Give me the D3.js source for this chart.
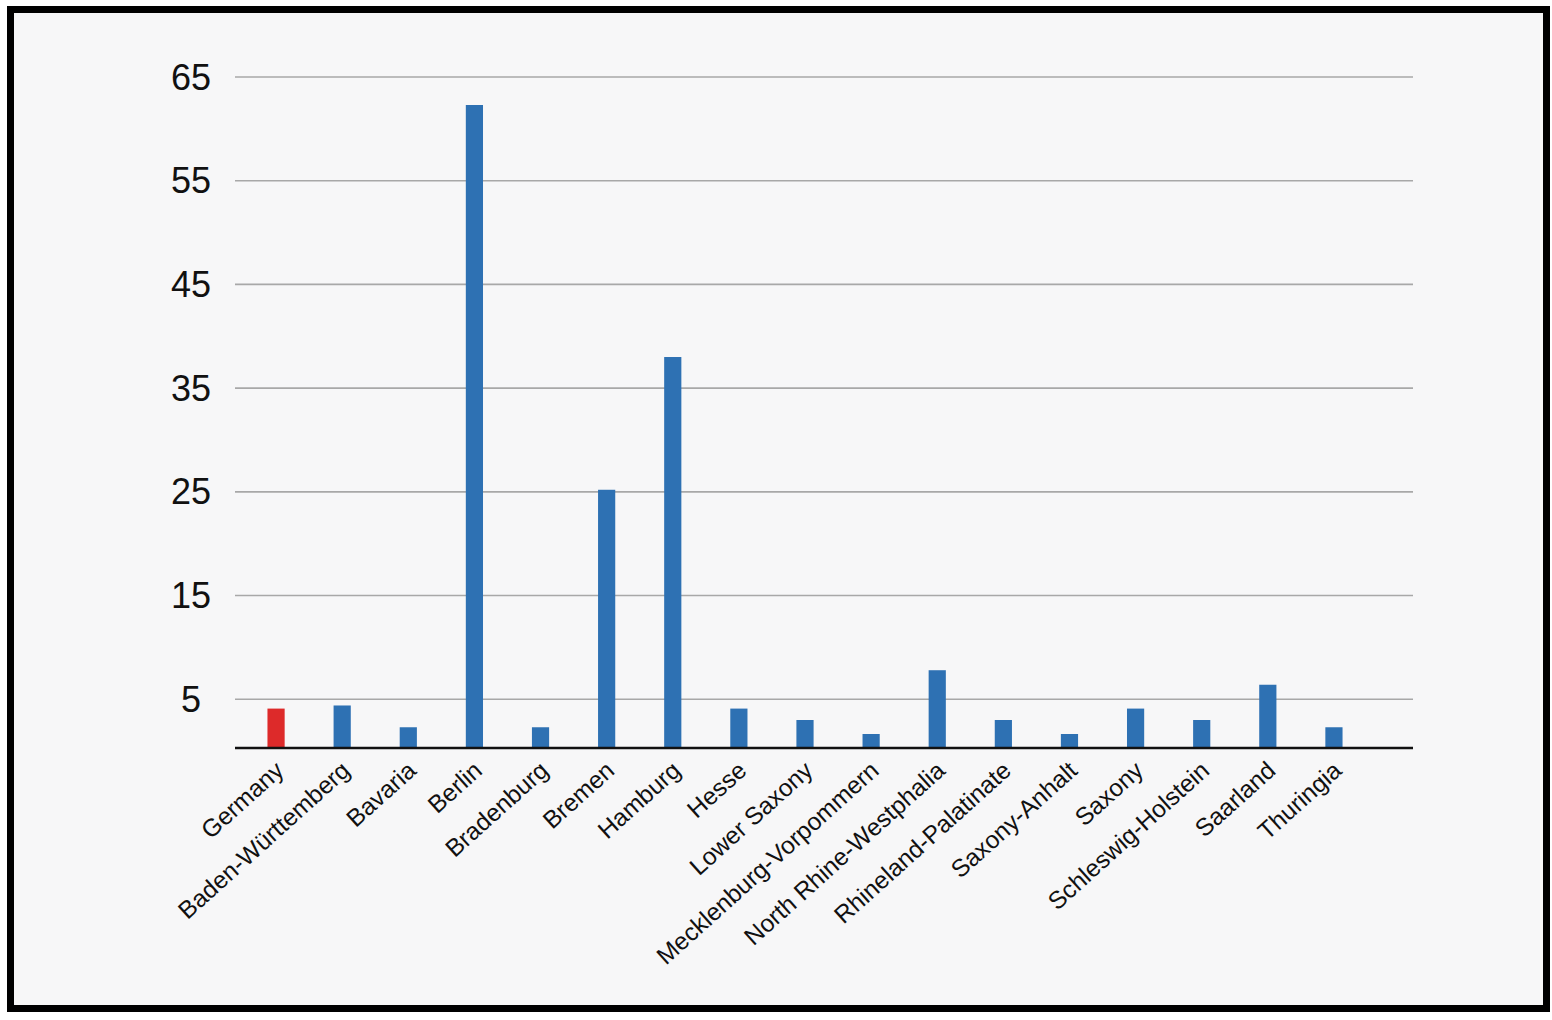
<!DOCTYPE html>
<html>
<head>
<meta charset="utf-8">
<script src="https://cdn.jsdelivr.net/npm/d3@7"></script>
<style>
  body { margin: 0; background: #fff; }
  text { font-family: "Liberation Sans", Arial, Helvetica, sans-serif; fill: #111; }
</style>
</head>
<body>
<script>
// categories and values
var states = ["Germany", "Baden-Württemberg", "Bavaria", "Berlin", "Bradenburg", "Bremen",
  "Hamburg", "Hesse", "Lower Saxony", "Mecklenburg-Vorpommern", "North Rhine-Westphalia",
  "Rhineland-Palatinate", "Saxony-Anhalt", "Saxony", "Schleswig-Holstein", "Saarland", "Thuringia"];
var values = [4.1, 4.4, 2.3, 62.3, 2.3, 25.2, 38.0, 4.1, 3.0, 1.65, 7.8, 3.0, 1.65, 4.1, 3.0, 6.4, 2.3];
var yTicks = [5, 15, 25, 35, 45, 55, 65];

var W = 1552, H = 1020;

var svg = d3.select("body").append("svg")
    .attr("width", W)
    .attr("height", H);

// framed background
svg.append("rect")
    .attr("x", 10.5).attr("y", 9.5)
    .attr("width", 1536).attr("height", 999)
    .attr("fill", "#f7f7f8")
    .attr("stroke", "#000")
    .attr("stroke-width", 7);

var data = states.map(function(s, i) { return {name: s, value: values[i]}; });

var x = d3.scaleBand()
    .domain(states)
    .range([243, 1367])
    .paddingInner(0.74)
    .paddingOuter(0.37);

var y = d3.scaleLinear()
    .domain([0.3, 65])
    .range([748, 77]);

var gridLeft = 235, gridRight = 1413;

// gridlines
svg.append("g").selectAll("line")
    .data(yTicks)
  .enter().append("line")
    .attr("x1", gridLeft).attr("x2", gridRight)
    .attr("y1", function(d) { return y(d); })
    .attr("y2", function(d) { return y(d); })
    .attr("stroke", "#a8a8a8")
    .attr("stroke-width", 1.6);

// y tick labels
svg.append("g").selectAll("text")
    .data(yTicks)
  .enter().append("text")
    .attr("x", 191)
    .attr("y", function(d) { return y(d); })
    .attr("text-anchor", "middle")
    .attr("dominant-baseline", "central")
    .style("font-size", "36px")
    .text(function(d) { return d; });

// bars
svg.append("g").selectAll("rect")
    .data(data)
  .enter().append("rect")
    .attr("x", function(d) { return x(d.name); })
    .attr("width", x.bandwidth())
    .attr("y", function(d) { return y(d.value); })
    .attr("height", function(d) { return y(0.3) - y(d.value); })
    .attr("fill", function(d, i) { return i === 0 ? "#dd2a2a" : "#2e71b3"; });

// baseline
svg.append("line")
    .attr("x1", gridLeft).attr("x2", gridRight)
    .attr("y1", y(0.3)).attr("y2", y(0.3))
    .attr("stroke", "#111")
    .attr("stroke-width", 2.5);

// rotated category labels
svg.append("g").selectAll("text")
    .data(states)
  .enter().append("text")
    .attr("transform", function(d) {
      return "translate(" + (x(d) + x.bandwidth() / 2 - 3) + ",759) rotate(-42)";
    })
    .attr("text-anchor", "end")
    .attr("dy", "0.75em")
    .style("font-size", "24.5px")
    .text(function(d) { return d; });
</script>
</body>
</html>
